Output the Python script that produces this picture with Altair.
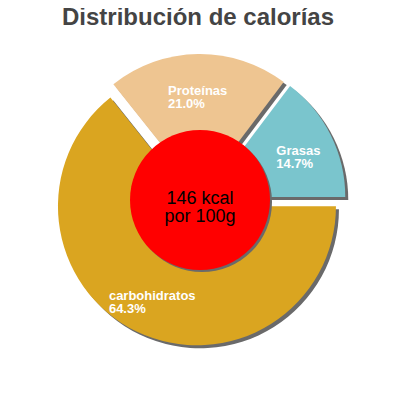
import math
import altair as alt
import pandas as pd

# ---- data ----
categories = ["carbohidratos", "Proteínas", "Grasas"]
percents = [64.3, 21.0, 14.7]
colors = ["#DAA520", "#EEC591", "#7AC5CD"]
kcal = 146
title_text = "Distribución de calorías"

# ---- layout / style constants ----
TOP = 32
W = 384
H = 2 * (192 - TOP)
CX, CY = W / 2, H / 2
R = 139          # pie radius
EXPLODE = 7      # offset of each slice along its bisector
LABEL_R = 101    # distance of label block from slice centre
INNER_R = 70     # red centre disc
SHADOW = 3

rows = []
start = math.pi / 2  # first slice starts at 3 o'clock, clockwise
total = sum(percents)
for cat, p, col in zip(categories, percents, colors):
    span = 2 * math.pi * p / total
    t0, t1 = start, start + span
    mid = (t0 + t1) / 2
    sx = CX + EXPLODE * math.sin(mid)
    sy = CY - EXPLODE * math.cos(mid)
    ax = sx + LABEL_R * math.sin(mid)
    ay = sy - LABEL_R * math.cos(mid)
    est_w = 6.8 * len(cat)
    rows.append(dict(cat=cat, pct=p, color=col, t0=t0, t1=t1, x=sx, y=sy,
                     lx=ax - est_w / 2, ly=ay - 1,
                     label=f"{cat}\n{p:.1f}%"))
    start = t1

df = pd.DataFrame(rows)
center = pd.DataFrame({"txt": [f"{kcal} kcal\npor 100g"]})
title_df = pd.DataFrame({"t": [title_text]})

base = alt.Chart(df).encode(
    theta=alt.Theta("t0:Q", scale=None),
    theta2=alt.Theta2("t1:Q"),
    x=alt.X("x:Q", scale=None),
    y=alt.Y("y:Q", scale=None),
)

shadows = base.mark_arc(radius=R, xOffset=SHADOW, yOffset=SHADOW, color="#6a6a6a")
slices = base.mark_arc(radius=R).encode(color=alt.Color("color:N", scale=None))

labels = alt.Chart(df).mark_text(
    align="left", baseline="middle", font="Liberation Sans", fontSize=13,
    fontWeight="bold", color="white", lineBreak="\n", lineHeight=13,
).encode(
    x=alt.X("lx:Q", scale=None),
    y=alt.Y("ly:Q", scale=None),
    text="label:N",
)

disc_shadow = alt.Chart(center).mark_arc(
    radius=INNER_R, theta=0, theta2=2 * math.pi, xOffset=2, yOffset=2
).encode(color=alt.value("#6a6a6a"))
disc = alt.Chart(center).mark_arc(
    radius=INNER_R, theta=0, theta2=2 * math.pi
).encode(color=alt.value("#FF0000"))
disc_text = alt.Chart(center).mark_text(
    align="center", baseline="middle", font="Liberation Sans", fontSize=18,
    lineBreak="\n", lineHeight=18, color="black", dy=-1,
).encode(text="txt:N")

title = alt.Chart(title_df).mark_text(
    align="center", baseline="alphabetic", font="Liberation Sans", fontSize=24,
    fontWeight="bold", color="#444444",
).encode(text="t:N", x=alt.value(W / 2 - 2), y=alt.value(-15))

chart = alt.layer(shadows, slices, labels, disc_shadow, disc, disc_text, title).properties(
    width=W, height=H,
    autosize=alt.AutoSizeParams(type="none"),
    padding={"left": 0, "top": TOP, "right": 0, "bottom": 0},
).configure_view(stroke=None)

chart.save("out.html", embed_options={"renderer": "svg", "actions": False})
